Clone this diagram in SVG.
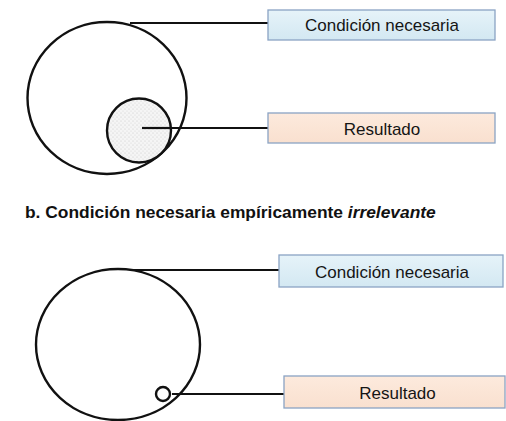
<svg xmlns="http://www.w3.org/2000/svg" width="506" height="421" viewBox="0 0 506 421">
<style>
.shape{fill:none;stroke:#111;stroke-width:2.4}
.conn line{stroke:#111;stroke-width:2.2}
.box{stroke:#8aa3c4;stroke-width:1.3}
.lbl{font-family:"Liberation Sans",Arial,sans-serif;font-size:17px;fill:#151515;text-anchor:middle}
.title{font-family:"Liberation Sans",Arial,sans-serif;font-size:17.4px;font-weight:bold;fill:#111}
</style>
<defs>
<linearGradient id="blue" x1="0" y1="0" x2="0" y2="1">
<stop offset="0" stop-color="#e6f3f9"/><stop offset="1" stop-color="#d3e8f2"/>
</linearGradient>
<linearGradient id="peach" x1="0" y1="0" x2="0" y2="1">
<stop offset="0" stop-color="#fdeadd"/><stop offset="1" stop-color="#f9e0cf"/>
</linearGradient>
<pattern id="dots" width="4" height="4" patternUnits="userSpaceOnUse">
<rect width="4" height="4" fill="#f5f5f5"/>
<circle cx="1" cy="1" r="0.6" fill="#c8c8c8"/>
<circle cx="3" cy="3" r="0.6" fill="#d6d6d6"/>
</pattern>
</defs>
<rect width="506" height="421" fill="#fff"/>

<g class="conn">
<line x1="130" y1="23" x2="268" y2="23"/>
<line x1="142" y1="128" x2="268" y2="128"/>
<line x1="133" y1="270" x2="279" y2="270"/>
<line x1="172" y1="394" x2="284" y2="394"/>
</g>

<g id="a-condicion-circle">
<ellipse class="shape" cx="107" cy="98" rx="79.5" ry="76"/>
</g>
<g id="a-resultado-circle">
<circle cx="139" cy="130.5" r="32" fill="url(#dots)" stroke="#111" stroke-width="2.4"/>
<line x1="142" y1="128" x2="172" y2="128" stroke="#111" stroke-width="2.2"/>
</g>
<g id="a-condicion-box">
<rect class="box" x="268" y="10" width="227" height="30" fill="url(#blue)"/>
<text class="lbl" x="382" y="31">Condición necesaria</text>
</g>
<g id="a-resultado-box">
<rect class="box" x="268" y="113" width="227" height="30" fill="url(#peach)"/>
<text class="lbl" x="382" y="134.5">Resultado</text>
</g>

<g id="title-b">
<text class="title" x="25" y="218">b. Condición necesaria empíricamente <tspan font-style="italic">irrelevante</tspan></text>
</g>

<g id="b-condicion-circle">
<ellipse class="shape" cx="118" cy="344.5" rx="82" ry="75.5"/>
</g>
<g id="b-resultado-circle">
<circle class="shape" cx="163" cy="394" r="7"/>
</g>
<g id="b-condicion-box">
<rect class="box" x="279" y="255" width="224" height="32" fill="url(#blue)"/>
<text class="lbl" x="392" y="277.5">Condición necesaria</text>
</g>
<g id="b-resultado-box">
<rect class="box" x="284" y="376" width="221" height="32" fill="url(#peach)"/>
<text class="lbl" x="397.5" y="399">Resultado</text>
</g>
</svg>
